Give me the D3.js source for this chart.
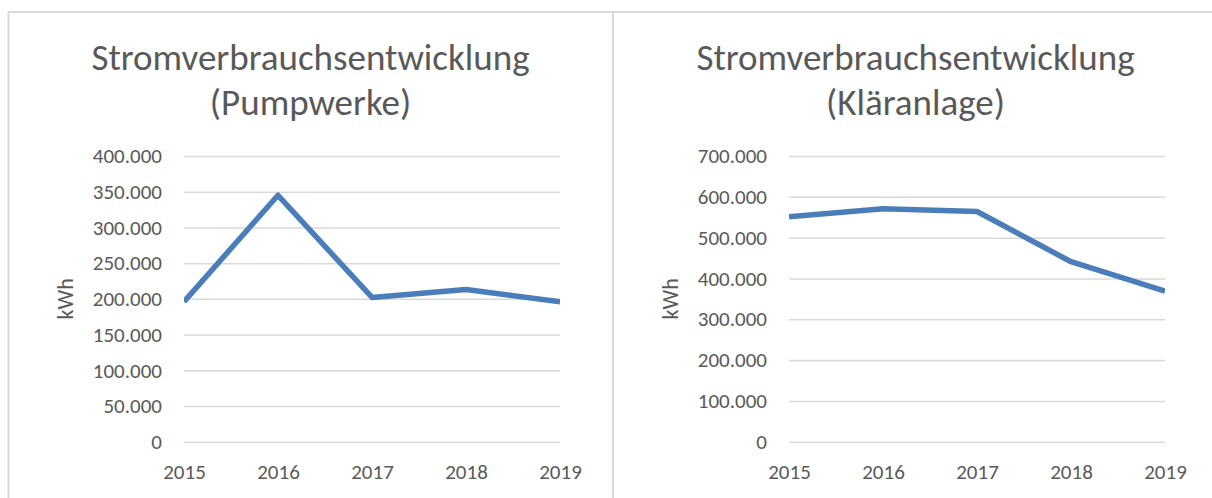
<!DOCTYPE html>
<meta charset="utf-8">
<style>
body { margin: 0; background: #fff; }
text { font-family: Carlito, Calibri, Lato, sans-serif; fill: #595959; }
.grid line { stroke: #d9d9d9; stroke-width: 1.5px; }
.frame { fill: none; stroke: #d9d9d9; stroke-width: 2px; }
</style>
<svg width="1212" height="498"></svg>
<script src="https://d3js.org/d3.v7.min.js"></script>
<script>

var years = ["2015", "2016", "2017", "2018", "2019"];
var pumpwerke = [196000, 345000, 202000, 213000, 196000];
var klaeranlage = [551000, 571000, 564000, 441000, 369000];
var pumpTicks = [0, 50000, 100000, 150000, 200000, 250000, 300000, 350000, 400000];
var klaerTicks = [0, 100000, 200000, 300000, 400000, 500000, 600000, 700000];

var svg = d3.select("svg");

var de = d3.formatLocale({decimal: ",", thousands: ".", grouping: [3], currency: ["", " €"]});
var fmt = de.format(",");

// layout of one chart box
var boxW = 605;
var plot = {left: 176, top: 156, width: 376, height: 285.7};

function drawChart(x0, idx, title, values, ticks) {
  var g = svg.append("g").attr("transform", "translate(" + x0 + ",0)");

  var x = d3.scalePoint().domain(years).range([0, plot.width]);
  var y = d3.scaleLinear().domain([0, d3.max(ticks)]).range([plot.height, 0]);

  // titel
  var t = g.append("text")
      .attr("text-anchor", "middle")
      .style("font-size", "37px");
  t.append("tspan").attr("x", boxW / 2).attr("y", 70).text(title[0]);
  t.append("tspan").attr("x", boxW / 2).attr("y", 115).text(title[1]);

  var p = g.append("g").attr("transform", "translate(" + plot.left + "," + plot.top + ")");

  var yAxis = p.append("g")
      .attr("class", "grid")
      .call(d3.axisLeft(y).tickValues(ticks).tickFormat(fmt).tickSize(-plot.width).tickPadding(22));
  yAxis.select(".domain").remove();
  yAxis.selectAll("text").style("font-size", "21px").attr("fill", "#595959");

  var xAxis = p.append("g")
      .attr("transform", "translate(0," + plot.height + ")")
      .call(d3.axisBottom(x).tickSize(0).tickPadding(22));
  xAxis.select(".domain").remove();
  xAxis.selectAll("text").style("font-size", "21px").attr("fill", "#595959");

  // kWh
  g.append("text")
      .attr("transform", "translate(" + 57 + "," + (plot.top + plot.height / 2) + ") rotate(-90)")
      .attr("text-anchor", "middle")
      .attr("dy", "0.35em")
      .style("font-size", "22px")
      .text("kWh");

  p.append("clipPath").attr("id", "clip" + idx)
    .append("rect").attr("x", 0).attr("y", -20).attr("width", plot.width).attr("height", plot.height + 40);

  var line = d3.line()
      .x(function(d, i) { return x(years[i]); })
      .y(function(d) { return y(d); });

  p.append("path")
      .datum(values)
      .attr("clip-path", "url(#clip" + idx + ")")
      .attr("d", line)
      .attr("fill", "none")
      .attr("stroke", "#4a7ebb")
      .attr("stroke-width", 5.5)
      .attr("stroke-linejoin", "round");
}

// rahmen
svg.append("path").attr("class", "frame")
    .attr("d", "M8.5,498V12H1212M613,12V498");

drawChart(8, 0, ["Stromverbrauchsentwicklung", "(Pumpwerke)"], pumpwerke, pumpTicks);
drawChart(613, 1, ["Stromverbrauchsentwicklung", "(Kläranlage)"], klaeranlage, klaerTicks);

</script>
